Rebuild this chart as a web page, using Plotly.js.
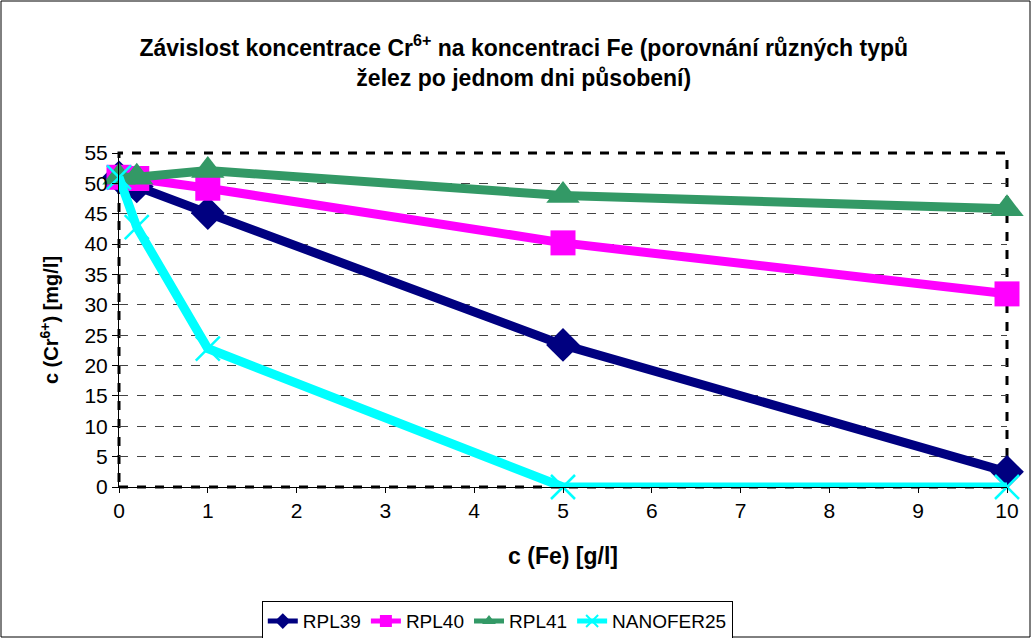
<!DOCTYPE html>
<html><head><meta charset="utf-8">
<script src="https://cdn.plot.ly/plotly-3.0.1.min.js"></script>
<style>html,body{margin:0;padding:0;background:#fff}#chart{width:1031px;height:638px}</style>
</head><body><div id="chart"></div>
<script>
const xFe = [0, 0.2, 1, 5, 10];
const rpl39 = [51, 49.5, 45.1, 23.4, 2.5];
const rpl40 = [51, 50.8, 49.2, 40.2, 31.8];
const rpl41 = [51, 51, 52.1, 48, 45.8];
const nanofer25 = [51, 42.8, 22.8, 0, 0];
const seriesNames = ['RPL39', 'RPL40', 'RPL41', 'NANOFER25'];
const xTicks = [0,1,2,3,4,5,6,7,8,9,10];
const yTicks = [0,5,10,15,20,25,30,35,40,45,50,55];

const font = 'Liberation Sans, Arial, sans-serif';
const mk = (y, name, color, symbol, size, extra) => Object.assign({
  x: xFe, y: y, name: name, type: 'scatter', mode: 'lines+markers', cliponaxis: false,
  line: {color: color, width: 9},
  marker: {color: color, symbol: symbol, size: size}
}, extra || {});
const data = [
  mk(rpl39, seriesNames[0], '#000080', 'diamond', 26),
  mk(rpl40, seriesNames[1], '#FF00FF', 'square', 25),
  mk(rpl41, seriesNames[2], '#339966', 'triangle-up', 29),
  mk(nanofer25, seriesNames[3], '#00FFFF', 'x-thin-open', 24, {marker:{color:'#00FFFF', symbol:'x-thin-open', size:24, line:{color:'#00FFFF', width:2.5}}})
];
const W = 1031, H = 638, L = 119, R = 24, T = 153, B = 151;
const pw = W - L - R, ph = H - T - B;
const layout = {
  width: W, height: H,
  margin: {l: L, r: R, t: T, b: B, autoexpand: false},
  paper_bgcolor: '#fff', plot_bgcolor: '#fff',
  font: {family: font, size: 19, color: '#000'},
  title: {text: '<b>Závislost koncentrace Cr<sup>6+</sup> na koncentraci Fe (porovnání různých typů<br>želez po jednom dni působení)</b>',
    font: {family: font, size: 23, color: '#000'}, x: 0.508, xanchor: 'center', y: 0.912, yanchor: 'top'},
  xaxis: {range: [0, 10], tickvals: xTicks, ticks: 'outside', ticklen: 5, tickcolor: '#000',
    showgrid: false, zeroline: false, showline: true, linecolor: '#000', linewidth: 1,
    tickfont: {family: font, size: 21}, automargin: false,
    title: {text: '<b>c (Fe) [g/l]</b>', font: {family: font, size: 23}, standoff: 26}},
  yaxis: {range: [0, 55], tickvals: yTicks, ticks: 'outside', ticklen: 6, tickcolor: '#000',
    showgrid: true, gridcolor: '#444', griddash: 'dash', gridwidth: 1, zeroline: false,
    showline: true, linecolor: '#000', linewidth: 1,
    tickfont: {family: font, size: 21}, automargin: false,
    title: {text: '<b>c (Cr<sup>6+</sup>) [mg/l]</b>', font: {family: font, size: 20}, standoff: 20}},
  legend: {orientation: 'h', x: 0.426, xanchor: 'center', y: -0.342, yanchor: 'top',
    bordercolor: '#000', borderwidth: 1, font: {family: font, size: 19},
    tracegroupgap: 0, itemsizing: 'constant'},
  showlegend: true,
  shapes: [
    {type: 'rect', xref: 'paper', yref: 'paper', x0: 0, x1: 1, y0: 0, y1: 1,
      line: {color: '#000', width: 3, dash: 'dash'}, layer: 'below'},
    {type: 'rect', xref: 'paper', yref: 'paper', x0: -(L - 1) / pw, x1: 1 + (R - 1) / pw,
      y0: -(B - 1) / ph, y1: 1 + (T - 1) / ph, line: {color: '#000', width: 1}}
  ]
};
Plotly.newPlot('chart', data, layout, {displayModeBar: false, staticPlot: true});
</script></body></html>
